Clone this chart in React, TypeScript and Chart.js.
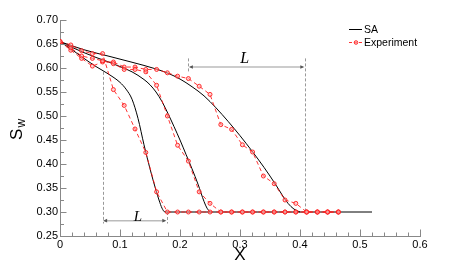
import { useEffect, useRef } from "react";
import { Chart, registerables } from "chart.js";
Chart.register(...registerables);

// Experiment sample positions (shared by the three experiment runs)
const expX = [0, 0.018, 0.036, 0.054, 0.071, 0.089, 0.107, 0.125, 0.143, 0.161, 0.179, 0.196, 0.214, 0.232, 0.25, 0.268, 0.286, 0.304, 0.321, 0.339, 0.357, 0.375, 0.393, 0.411, 0.429, 0.446, 0.464];
const exp1Y = [0.655, 0.648, 0.636, 0.63, 0.63, 0.555, 0.522, 0.473, 0.424, 0.342, 0.3, 0.3, 0.3, 0.3, 0.3, 0.3, 0.3, 0.3, 0.3, 0.3, 0.3, 0.3, 0.3, 0.3, 0.3, 0.3, 0.3];
const exp2Y = [0.655, 0.642, 0.625, 0.62, 0.615, 0.609, 0.597, 0.597, 0.592, 0.564, 0.5, 0.439, 0.406, 0.342, 0.318, 0.3, 0.3, 0.3, 0.3, 0.3, 0.3, 0.3, 0.3, 0.3, 0.3, 0.3, 0.3];
const exp3Y = [0.655, 0.637, 0.62, 0.604, 0.6125, 0.6125, 0.602, 0.602, 0.597, 0.597, 0.59, 0.583, 0.578, 0.562, 0.545, 0.482, 0.472, 0.44, 0.425, 0.375, 0.359, 0.325, 0.318, 0.3, 0.3, 0.3, 0.3];

// SA model curves
const sa1X = [0, 0.02, 0.04, 0.06, 0.08, 0.1, 0.11, 0.12, 0.13, 0.14, 0.15, 0.16, 0.165, 0.17, 0.175, 0.52];
const sa1Y = [0.655, 0.638, 0.62, 0.603, 0.588, 0.57, 0.556, 0.535, 0.495, 0.44, 0.39, 0.345, 0.325, 0.308, 0.3, 0.3];
const sa2X = [0, 0.02, 0.04, 0.06, 0.08, 0.1, 0.12, 0.14, 0.15, 0.16, 0.17, 0.18, 0.19, 0.2, 0.21, 0.22, 0.23, 0.24, 0.245, 0.25];
const sa2Y = [0.655, 0.643, 0.632, 0.622, 0.613, 0.603, 0.592, 0.576, 0.565, 0.55, 0.53, 0.505, 0.478, 0.45, 0.42, 0.39, 0.358, 0.322, 0.308, 0.3];
const sa3X = [0, 0.04, 0.08, 0.12, 0.16, 0.18, 0.2, 0.22, 0.24, 0.26, 0.28, 0.3, 0.32, 0.34, 0.36, 0.37, 0.38, 0.39, 0.4];
const sa3Y = [0.655, 0.638, 0.625, 0.612, 0.598, 0.589, 0.577, 0.561, 0.542, 0.517, 0.489, 0.459, 0.427, 0.393, 0.356, 0.336, 0.318, 0.306, 0.3];

// Axis ticks
const xMajorTicks = [0, 0.1, 0.2, 0.3, 0.4, 0.5, 0.6];
const yMajorTicks = [0.25, 0.3, 0.35, 0.4, 0.45, 0.5, 0.55, 0.6, 0.65, 0.7];
const xMinorPerMajor = 5;
const yMinorPerMajor = 2;

// Annotation: "L" spans
const lowerSpan = { x0: 0.071, x1: 0.178, y: 0.282, label: "L", labelX: 0.13, labelY: 0.289 };
const upperSpan = { x0: 0.214, x1: 0.408, y: 0.602, label: "L", labelX: 0.308, labelY: 0.619 };

const FONT = '"Liberation Sans", Arial, sans-serif';
const RED = "rgba(255,30,30,0.9)";

const pts = (xs: number[], ys: number[]) => xs.map((x, i) => ({ x, y: ys[i] }));

const overlay = {
  id: "overlay",
  beforeDatasetsDraw(chart: any) {
    const { ctx } = chart;
    const xs = chart.scales.x;
    const ys = chart.scales.y;
    const X = (v: number) => xs.getPixelForValue(v);
    const Y = (v: number) => ys.getPixelForValue(v);
    ctx.save();
    ctx.strokeStyle = "#999";
    ctx.lineWidth = 1;
    ctx.setLineDash([3, 2]);
    const vline = (x: number, y0: number, y1: number) => {
      ctx.beginPath();
      ctx.moveTo(Math.round(X(x)) + 0.5, Y(y0));
      ctx.lineTo(Math.round(X(x)) + 0.5, Y(y1));
      ctx.stroke();
    };
    vline(0.071, 0.592, 0.276);
    vline(0.178, 0.3, 0.276);
    vline(0.214, 0.62, 0.592);
    vline(0.408, 0.62, 0.3);
    ctx.setLineDash([]);
    const arrow = (s: any, color: string, w: number) => {
      const a = X(s.x0), b = X(s.x1), yy = Y(s.y);
      ctx.strokeStyle = color;
      ctx.lineWidth = w;
      ctx.beginPath();
      ctx.moveTo(a + 2, yy);
      ctx.lineTo(b - 2, yy);
      ctx.stroke();
      ctx.fillStyle = "#555";
      ctx.beginPath();
      ctx.moveTo(a + 0.5, yy);
      ctx.lineTo(a + 4.5, yy - 1.8);
      ctx.lineTo(a + 4.5, yy + 1.8);
      ctx.closePath();
      ctx.fill();
      ctx.beginPath();
      ctx.moveTo(b - 0.5, yy);
      ctx.lineTo(b - 4.5, yy - 1.8);
      ctx.lineTo(b - 4.5, yy + 1.8);
      ctx.closePath();
      ctx.fill();
    };
    arrow(lowerSpan, "#bbb", 1.5);
    arrow(upperSpan, "#ccc", 2);
    ctx.fillStyle = "#000";
    ctx.textAlign = "center";
    ctx.textBaseline = "middle";
    ctx.font = 'italic 15px "Liberation Serif", "DejaVu Serif", serif';
    ctx.fillText(lowerSpan.label, X(lowerSpan.labelX), Y(lowerSpan.labelY));
    ctx.font = 'italic 16px "Liberation Serif", "DejaVu Serif", serif';
    ctx.fillText(upperSpan.label, X(upperSpan.labelX), Y(upperSpan.labelY));
    ctx.restore();
  },
  afterDraw(chart: any) {
    const { ctx, chartArea } = chart;
    const xs = chart.scales.x;
    const ys = chart.scales.y;
    ctx.save();
    ctx.strokeStyle = "#888";
    ctx.lineWidth = 1;
    const bottom = Math.round(chartArea.bottom) + 0.5;
    const left = Math.round(chartArea.left) + 0.5;
    for (let i = 0; i < xMajorTicks.length; i++) {
      const v = xMajorTicks[i];
      const p = Math.round(xs.getPixelForValue(v)) + 0.5;
      ctx.beginPath();
      ctx.moveTo(p, bottom);
      ctx.lineTo(p, bottom - 7);
      ctx.stroke();
      if (i < xMajorTicks.length - 1) {
        const step = (xMajorTicks[i + 1] - v) / xMinorPerMajor;
        for (let k = 1; k < xMinorPerMajor; k++) {
          const q = Math.round(xs.getPixelForValue(v + k * step)) + 0.5;
          ctx.beginPath();
          ctx.moveTo(q, bottom);
          ctx.lineTo(q, bottom - 4);
          ctx.stroke();
        }
      }
    }
    for (let i = 0; i < yMajorTicks.length; i++) {
      const v = yMajorTicks[i];
      const p = Math.round(ys.getPixelForValue(v)) + 0.5;
      ctx.beginPath();
      ctx.moveTo(left, p);
      ctx.lineTo(left + 6, p);
      ctx.stroke();
      if (i < yMajorTicks.length - 1) {
        const step = (yMajorTicks[i + 1] - v) / yMinorPerMajor;
        for (let k = 1; k < yMinorPerMajor; k++) {
          const q = Math.round(ys.getPixelForValue(v + k * step)) + 0.5;
          ctx.beginPath();
          ctx.moveTo(left, q);
          ctx.lineTo(left + 3.5, q);
          ctx.stroke();
        }
      }
    }
    ctx.fillStyle = "#000";
    ctx.font = `17px ${FONT}`;
    ctx.textAlign = "center";
    ctx.textBaseline = "middle";
    ctx.fillText("X", 240, 255);
    ctx.save();
    ctx.translate(22, 140);
    ctx.rotate(-Math.PI / 2);
    ctx.textAlign = "left";
    ctx.textBaseline = "alphabetic";
    ctx.font = `17px ${FONT}`;
    ctx.fillText("S", 0, 0);
    ctx.font = `12px ${FONT}`;
    ctx.fillText("w", 12.5, 3);
    ctx.restore();
    ctx.font = `10.5px ${FONT}`;
    ctx.textAlign = "left";
    ctx.textBaseline = "middle";
    ctx.strokeStyle = "#000";
    ctx.lineWidth = 1;
    ctx.beginPath();
    ctx.moveTo(349, 29.5);
    ctx.lineTo(362, 29.5);
    ctx.stroke();
    ctx.fillText("SA", 364, 30);
    ctx.strokeStyle = RED;
    ctx.setLineDash([3, 2]);
    ctx.beginPath();
    ctx.moveTo(349, 42.5);
    ctx.lineTo(363, 42.5);
    ctx.stroke();
    ctx.setLineDash([]);
    ctx.fillStyle = "rgba(255,170,170,0.6)";
    ctx.beginPath();
    ctx.arc(356, 42.5, 1.8, 0, Math.PI * 2);
    ctx.fill();
    ctx.stroke();
    ctx.fillStyle = "#000";
    ctx.fillText("Experiment", 364, 43);
    ctx.restore();
  },
};

export default function App() {
  const ref = useRef<HTMLCanvasElement>(null);
  useEffect(() => {
    const canvas = ref.current;
    if (!canvas) return;
    const expStyle = {
      borderColor: RED,
      borderWidth: 1,
      borderDash: [4, 3],
      pointRadius: 2,
      pointBorderColor: RED,
      pointBackgroundColor: "rgba(255,170,170,0.5)",
      pointBorderWidth: 1,
      tension: 0,
      fill: false,
      order: 0,
    };
    const saStyle = {
      borderColor: "#000",
      borderWidth: 1,
      pointRadius: 0,
      cubicInterpolationMode: "monotone" as const,
      fill: false,
      order: 1,
    };
    const chart = new Chart(canvas, {
      type: "line",
      data: {
        datasets: [
          { label: "Experiment", data: pts(expX, exp1Y), ...expStyle },
          { label: "Experiment", data: pts(expX, exp2Y), ...expStyle },
          { label: "Experiment", data: pts(expX, exp3Y), ...expStyle },
          { label: "SA", data: pts(sa1X, sa1Y), ...saStyle },
          { label: "SA", data: pts(sa2X, sa2Y), ...saStyle },
          { label: "SA", data: pts(sa3X, sa3Y), ...saStyle },
        ] as any,
      },
      options: {
        animation: false,
        responsive: true,
        maintainAspectRatio: false,
        layout: { padding: { left: 0, top: 20, right: 44, bottom: 0 } },
        plugins: { legend: { display: false }, tooltip: { enabled: false } },
        scales: {
          x: {
            type: "linear",
            min: 0,
            max: 0.6,
            grid: { display: false, drawTicks: false },
            border: { display: true, color: "#888", width: 1 },
            afterFit: (s: any) => { s.height = 29; },
            afterBuildTicks: (s: any) => { s.ticks = xMajorTicks.map((v) => ({ value: v })); },
            ticks: {
              padding: 2,
              color: "#000",
              font: { family: FONT, size: 11 },
              maxRotation: 0,
              autoSkip: false,
              callback: (v: any) => (Number(v) === 0 ? "0" : Number(v).toFixed(1)),
            },
          },
          y: {
            type: "linear",
            min: 0.25,
            max: 0.7,
            grid: { display: false, drawTicks: false },
            border: { display: true, color: "#888", width: 1 },
            afterFit: (s: any) => { s.width = 60; },
            afterBuildTicks: (s: any) => { s.ticks = yMajorTicks.map((v) => ({ value: v })); },
            ticks: {
              padding: 2,
              color: "#000",
              font: { family: FONT, size: 11 },
              autoSkip: false,
              callback: (v: any) => Number(v).toFixed(2),
            },
          },
        },
      },
      plugins: [overlay],
    });
    return () => chart.destroy();
  }, []);
  return (
    <div style={{ position: "fixed", left: 0, top: 0, width: 464, height: 265, background: "#fff" }}>
      <canvas ref={ref} />
    </div>
  );
}
